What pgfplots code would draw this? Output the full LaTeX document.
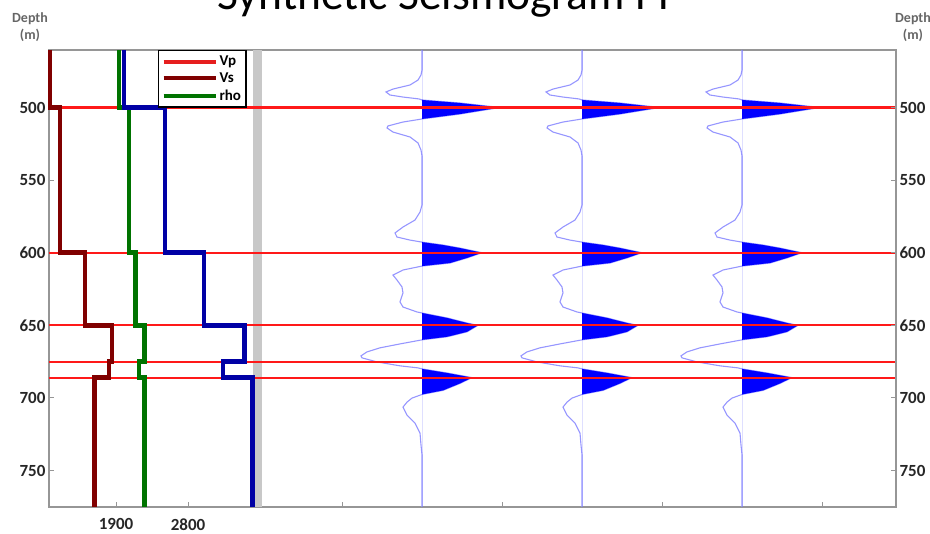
\documentclass[border=0pt]{standalone}
\usepackage{pgfplots}
\pgfplotsset{compat=1.18}
\usepackage{pgfplotstable}
\usepackage{fontspec}
\setmainfont{Carlito}

\definecolor{vpblue}{RGB}{0,0,165}
\definecolor{vsred}{RGB}{128,0,0}
\definecolor{rhogreen}{RGB}{0,115,0}
\definecolor{legred}{RGB}{230,30,30}
\definecolor{refred}{RGB}{255,25,25}
\definecolor{tracelight}{RGB}{150,150,255}
\definecolor{bandgrey}{RGB}{200,200,200}
\definecolor{framegrey}{RGB}{150,150,150}

% synthetic trace: depth (m) and offset from trace baseline (px of original)
\pgfplotstableread{
d a
460.4 0
474.2 0
477.6 -1
481.1 -4
484.5 -12
487.3 -29
489.3 -36
491.4 -32
492.8 -19
494.1 -3
494.8 0
496.9 38
500.0 78
504.5 38
507.9 0
510.0 -19
512.7 -34
514.1 -35
516.9 -29
520.3 -12
524.4 -4
529.3 -1
533.4 0
567.1 0
572.0 -2
577.5 -7
582.3 -19
586.4 -27
589.2 -25
591.3 -12
592.7 0
594.7 21
596.8 38
600.0 60
603.6 45
607.1 28
609.2 0
611.9 -19
615.4 -29
618.8 -25
623.6 -20
627.7 -19
633.9 -22
637.4 -19
640.8 -5
641.5 0
644.9 25
648.4 45
650.0 56
654.5 45
657.9 25
660.0 0
662.8 -22
665.5 -42
668.3 -55
671.0 -61
672.4 -60
675.2 -45
677.9 -22
679.3 -4
680.0 0
682.8 25
686.0 50
690.0 38
694.8 21
697.6 0
700.1 -10
702.9 -15
706.3 -19
711.8 -15
717.3 -7
724.2 -2
732.4 -1
739.3 0
775.1 0
}\trace

\pgfplotsset{
  base/.style={
    scale only axis, width=847pt, height=457pt,
    at={(49pt,27pt)}, anchor=south west,
    xmin=1062.5, xmax=11650, ymin=460.4, ymax=775.1,
    y dir=reverse,
    scaled x ticks=false, scaled y ticks=false,
    /pgf/number format/assume math mode=true,
    /pgf/number format/set thousands separator={},
    axis line style={draw=framegrey, line width=1.4pt},
    tick align=inside,
    major tick length=5pt,
    tick style={draw=framegrey, line width=1pt},
    ticklabel style={font=\bfseries\fontsize{17}{17}\selectfont, text=black!85},
  }
}

\begin{document}
\begin{tikzpicture}
\begin{axis}[
  base,
  xtick={1900,2800,4725,6725,8725,10725},
  xticklabels={1900,2800},
  xtick pos=lower,
  ytick={500,550,...,750},
  ytick pos=left,
  xticklabel style={yshift=-8pt},
  clip=false,
  legend style={at={(0.1287,1)}, anchor=north west, draw=black, line width=1.2pt,
    fill=white, font=\bfseries\fontsize{15}{15}\selectfont,
    inner xsep=3pt, inner ysep=3.5pt, row sep=1.5pt,
    cells={anchor=west},
    /tikz/every even column/.style={column sep=0pt}},
  legend image code/.code={\draw[#1] (0pt,0pt) -- (52pt,0pt);},
]
\addlegendimage{draw=legred, line width=4pt}\addlegendentry{Vp}
\addlegendimage{draw=vsred, line width=4pt}\addlegendentry{Vs}
\addlegendimage{draw=rhogreen, line width=4pt}\addlegendentry{rho}

% grey band
\addplot[forget plot, fill=bandgrey, draw=none] coordinates {(3612,460.4) (3725,460.4) (3725,775.1) (3612,775.1)} -- cycle;

% synthetic traces
\pgfplotsinvokeforeach{5725,7725,9725}{
  \addplot[forget plot, draw=tracelight, line width=1.1pt] table[x expr={\thisrow{a}*12.5+#1}, y=d]{\trace};
  \addplot[forget plot, fill=blue, draw=none] table[x expr={max(\thisrow{a},0)*12.5+#1}, y=d]{\trace} -- cycle;
}

% reflector lines
\pgfplotsinvokeforeach{500,600,650,675,686}{
  \addplot[forget plot, draw=refred, line width=2.2pt] coordinates {(1062.5,#1) (11650,#1)};
}

% Vs
\addplot[forget plot, draw=vsred, line width=4.5pt] coordinates {
(1075,460.4) (1075,500) (1200,500) (1200,600) (1510,600) (1510,650)
(1850,650) (1850,675) (1812,675) (1812,686) (1630,686) (1630,775.1)};
% rho
\addplot[forget plot, draw=rhogreen, line width=4.5pt] coordinates {
(1940,460.4) (1940,500) (2062,500) (2062,600) (2145,600) (2145,650)
(2256,650) (2256,675) (2190,675) (2190,686) (2256,686) (2256,775.1)};
% Vp
\addplot[forget plot, draw=vpblue, line width=4.5pt] coordinates {
(2000,460.4) (2000,500) (2512,500) (2512,600) (3000,600) (3000,650)
(3506,650) (3506,675) (3237,675) (3237,686) (3606,686) (3606,775.1)};
\end{axis}

\begin{axis}[
  base,
  hide x axis,
  axis y line*=right,
  ytick={500,550,...,750},
  yticklabel pos=right,
]
\addplot[draw=none] coordinates {(2000,500)};
\end{axis}

\node[font=\fontsize{45.5}{45.5}\selectfont, anchor=base] at (450pt,524pt) {Synthetic Seismogram PP};
\node[font=\bfseries\fontsize{14}{17}\selectfont, text=black!60, align=center] at (30pt,507pt) {Depth\\(m)};
\node[font=\bfseries\fontsize{14}{17}\selectfont, text=black!60, align=center] at (913pt,507pt) {Depth\\(m)};

\pgfresetboundingbox
\path[use as bounding box] (0,0) rectangle (930pt,534pt);
\end{tikzpicture}
\end{document}
